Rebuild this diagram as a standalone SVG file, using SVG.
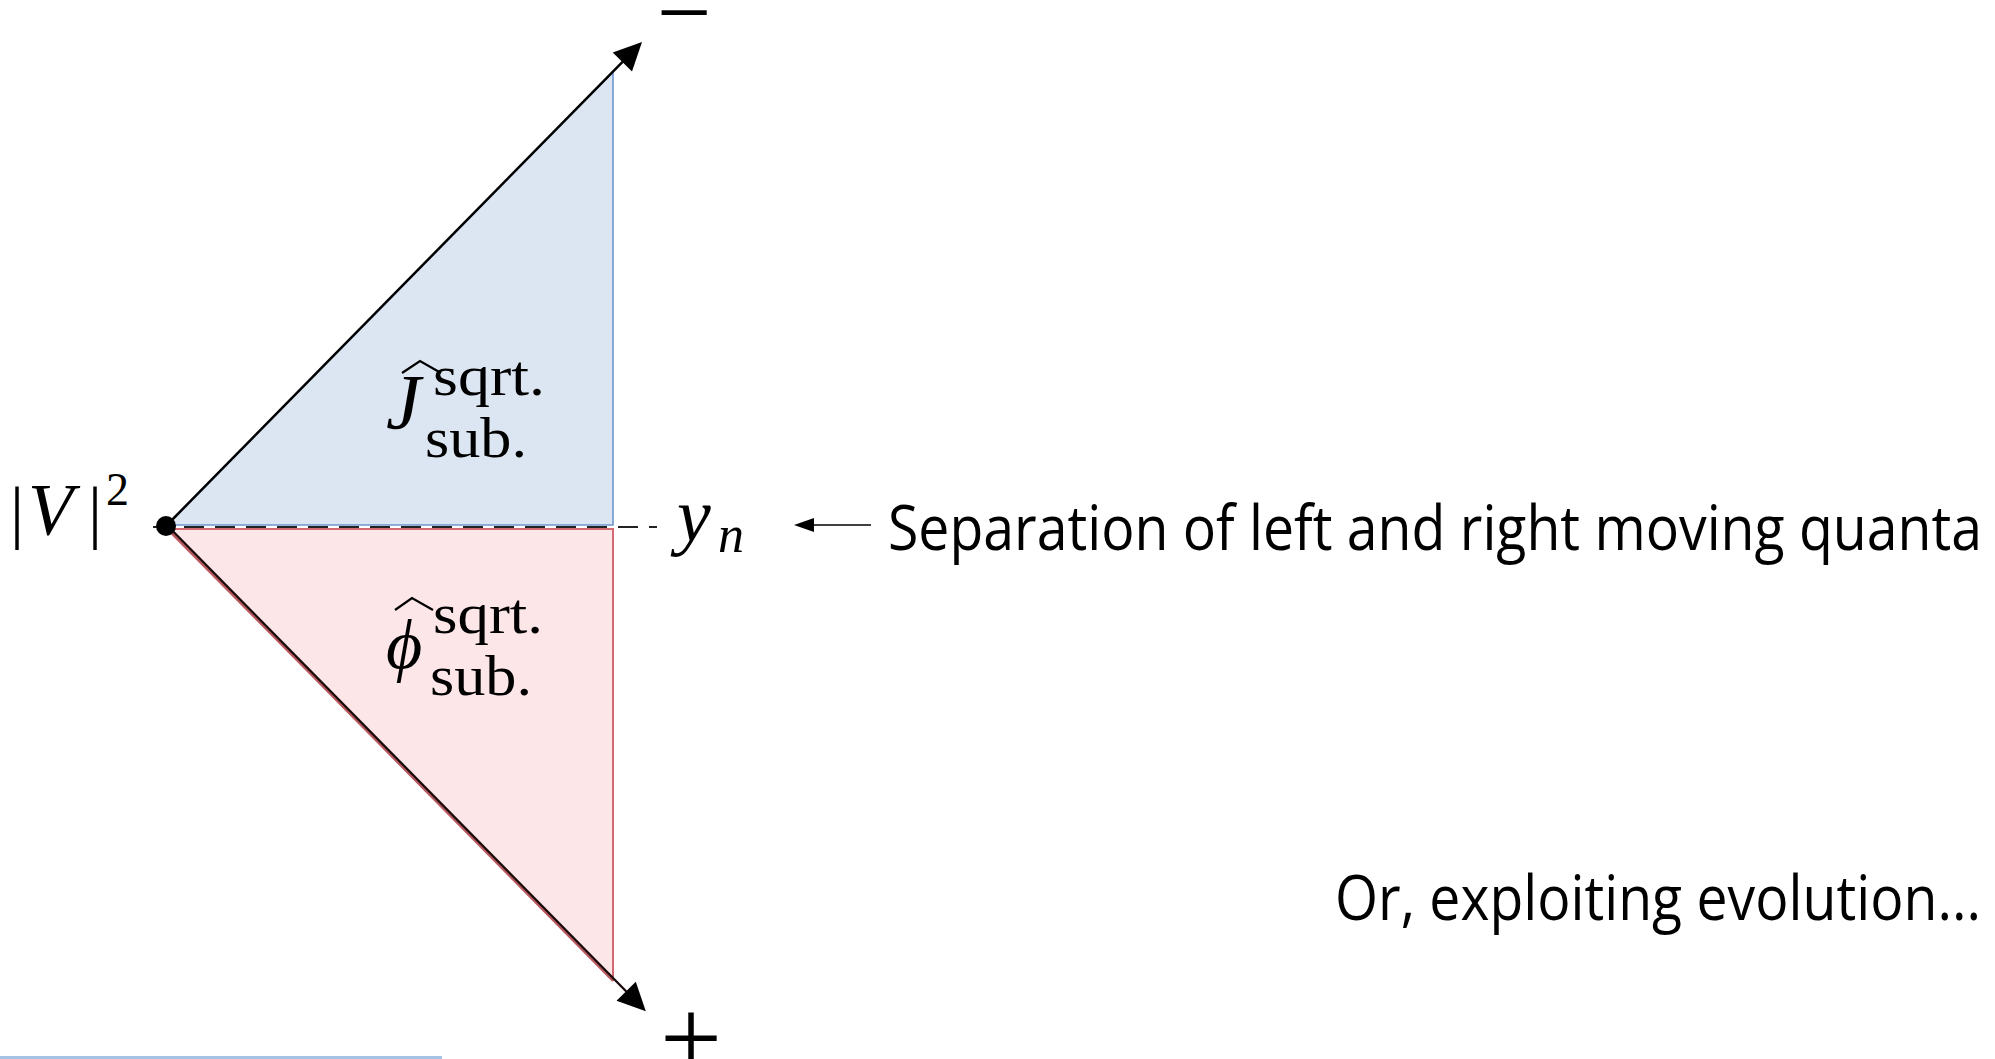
<svg xmlns="http://www.w3.org/2000/svg" width="1995" height="1059" viewBox="0 0 1995 1059">
<style>
.m{font-family:"Liberation Serif","DejaVu Serif",serif;fill:#000}
.i{font-style:italic}
.s{font-family:"Open Sans","Noto Sans","Liberation Sans",sans-serif;fill:#000}
</style>
<defs>
<marker id="big" markerUnits="userSpaceOnUse" markerWidth="32" markerHeight="30" viewBox="0 -15 30 30" refX="22" refY="0" orient="auto">
<path d="M0,-13.5 L28,0 L0,13.5 Z" fill="#000"/>
</marker>
<marker id="small" markerUnits="userSpaceOnUse" markerWidth="22" markerHeight="16" viewBox="0 -8 22 16" refX="2" refY="0" orient="auto">
<path d="M0,-7 L20,0 L0,7 Z" fill="#000"/>
</marker>
</defs>
<rect width="1995" height="1059" fill="#fff"/>
<g id="regions">
<polygon id="blue-region" points="167,525 613,72 613,525" fill="#dce6f2" stroke="#6e96d0" stroke-width="1.6"/>
<polygon id="pink-region" points="167,529 613,529 613,979" fill="#fde6e8" stroke="#d46a72" stroke-width="2"/>
</g>
<g id="connectors">
<line x1="153" y1="527" x2="657" y2="527" stroke="#222" stroke-width="2" stroke-dasharray="20 11"/>
<line x1="166" y1="526" x2="637.8" y2="46.3" stroke="#000" stroke-width="2.5" marker-end="url(#big)"/>
<line x1="168" y1="529" x2="613" y2="981" stroke="#b85a60" stroke-width="2.4"/>
<line x1="166.8" y1="525" x2="641.6" y2="1007" stroke="#1a0a0a" stroke-width="2.3" marker-end="url(#big)"/>
<line x1="871" y1="525" x2="812" y2="525" stroke="#000" stroke-width="1.6" marker-end="url(#small)"/>
</g>
<g id="origin">
<circle cx="166" cy="526" r="10" fill="#000"/>
<text class="m" x="10" y="535" font-size="70">|</text>
<text class="m i" x="28" y="535" font-size="74">V</text>
<text class="m" x="88" y="535" font-size="70">|</text>
<text class="m" x="106" y="505" font-size="46">2</text>
</g>
<g id="yn-label">
<text class="m i" x="677" y="541" font-size="76">y</text>
<text class="m i" x="718" y="552" font-size="52">n</text>
</g>
<g id="J-label">
<path d="M402,373 L420,361 L441,373" fill="none" stroke="#000" stroke-width="2.2"/>
<text class="m i" x="386" y="428" font-size="78">J</text>
<text class="m" x="433" y="395" font-size="56" textLength="112" lengthAdjust="spacingAndGlyphs">sqrt.</text>
<text class="m" x="425" y="457" font-size="56" textLength="102" lengthAdjust="spacingAndGlyphs">sub.</text>
</g>
<g id="phi-label">
<path d="M395,610 L412,598 L433,610" fill="none" stroke="#000" stroke-width="2.2"/>
<text class="m i" x="386" y="668" font-size="70">ϕ</text>
<text class="m" x="433" y="633" font-size="56" textLength="110" lengthAdjust="spacingAndGlyphs">sqrt.</text>
<text class="m" x="430" y="695" font-size="56" textLength="102" lengthAdjust="spacingAndGlyphs">sub.</text>
</g>
<g id="signs">
<text class="m" x="684" y="45" font-size="97" text-anchor="middle">−</text>
<text class="m" x="691" y="1075" font-size="110" text-anchor="middle">+</text>
</g>
<g id="texts">
<text class="s" x="888" y="550" font-size="63" textLength="1094" lengthAdjust="spacingAndGlyphs">Separation of left and right moving quanta</text>
<text class="s" x="1335" y="920" font-size="63" textLength="646" lengthAdjust="spacingAndGlyphs">Or, exploiting evolution...</text>
</g>
<rect x="0" y="1056" width="442" height="3" fill="#a5c3e5"/>
</svg>
